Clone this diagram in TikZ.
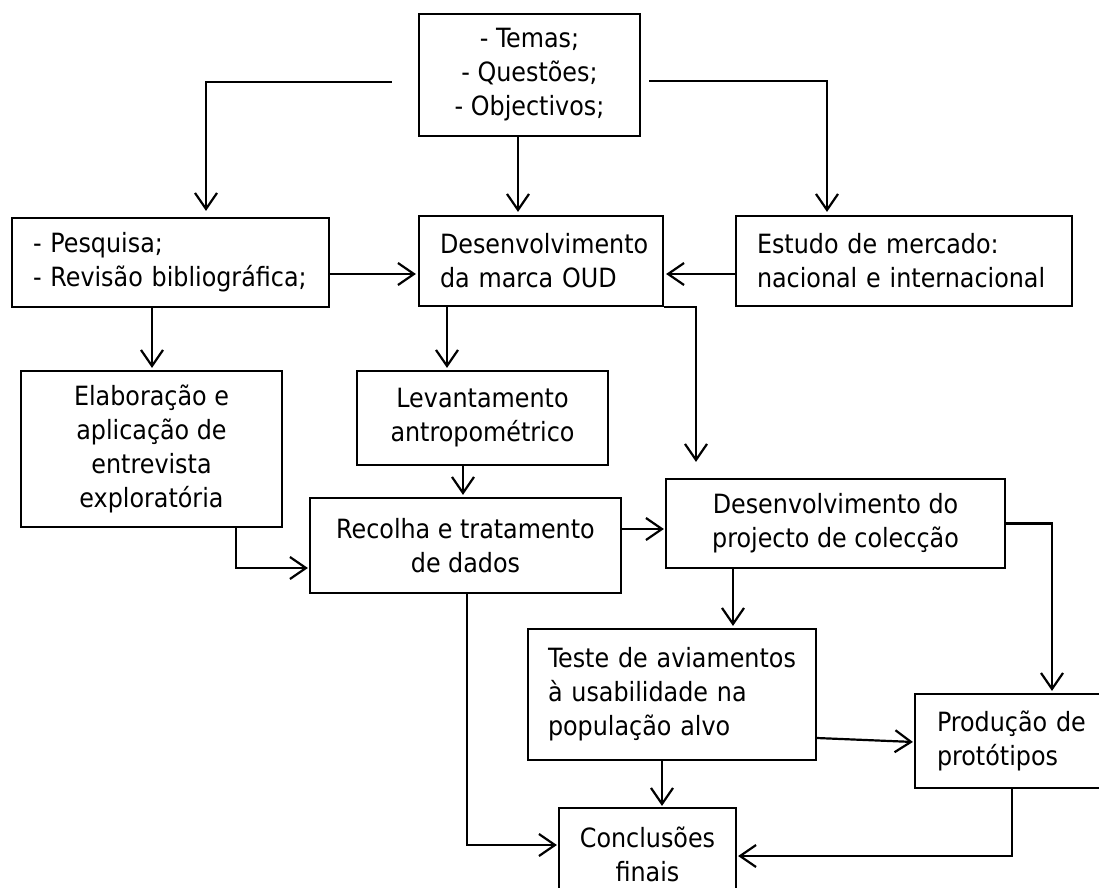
\documentclass[tikz,border=0pt]{standalone}
\usepackage{fontspec}
\setmainfont{DejaVu Sans Condensed}
\usetikzlibrary{arrows.meta,calc}
\begin{document}
\begin{tikzpicture}[x=1pt,y=-1pt,
  box/.style={draw, line width=2.2pt, inner sep=0pt, font=\fontsize{26.5}{34}\selectfont},
  arr/.style={draw, line width=2.2pt, -{Straight Barb[length=16pt,width=22pt,line width=2.2pt]}},
  lin/.style={draw, line width=2.2pt}]
\useasboundingbox (0,0) rectangle (1099,887);
% boxes
\node[box, minimum width=221pt, minimum height=122pt, align=center] (temas) at (529.5,75) {- Temas;\\- Questões;\\- Objectivos;};
\node[box, minimum width=317pt, minimum height=89pt, text width=275pt, align=left] (pesq) at (170.5,262.5) {- Pesquisa;\\- Revisão bibliográfica;};
\node[box, minimum width=244pt, minimum height=90pt, text width=202pt, align=left] (desenv) at (541,261) {Desenvolvimento\\da marca OUD};
\node[box, minimum width=336pt, minimum height=90pt, text width=294pt, align=left] (estudo) at (904,261) {Estudo de mercado:\\nacional e internacional};
\node[box, minimum width=261pt, minimum height=156pt, align=center] (elab) at (151.5,449) {Elaboração e\\aplicação de\\entrevista\\exploratória};
\node[box, minimum width=251pt, minimum height=94pt, align=center] (levant) at (482.5,418) {Levantamento\\antropométrico};
\node[box, minimum width=311pt, minimum height=95pt, align=center] (recolha) at (465.5,545.5) {Recolha e tratamento\\de dados};
\node[box, minimum width=339pt, minimum height=89pt, align=center] (proj) at (835.5,523.5) {Desenvolvimento do\\projecto de colecção};
\node[box, minimum width=288pt, minimum height=131pt, text width=248pt, align=left] (teste) at (672,694.5) {Teste de aviamentos\\à usabilidade na\\população alvo};
\node[box, minimum width=205pt, minimum height=94pt, text width=161pt, align=left] (prod) at (1017.5,741) {Produção de\\protótipos};
\node[box, minimum width=177pt, minimum height=92pt, align=center] (concl) at (647.5,854) {Conclusões\\finais};
% connectors
\draw[arr, shorten >=6pt] ([xshift=-26pt,yshift=-7pt]temas.west) -| ([xshift=35.5pt]pesq.north);
\draw[arr, shorten >=3pt] ([xshift=-11.5pt]temas.south) -- ([xshift=-11.5pt]temas.south |- desenv.north);
\draw[arr, shorten >=3pt] ([xshift=8pt,yshift=-6pt]temas.east) -| ([xshift=-77pt]estudo.north);
\draw[arr, shorten >=2pt] ([yshift=-11.5pt]pesq.east) -- ([yshift=-11.5pt]pesq.east -| desenv.west);
\draw[arr, shorten >=2pt] ([yshift=-13pt]estudo.west) -- ([yshift=-13pt]estudo.west -| desenv.east);
\draw[arr, shorten >=2pt] ([xshift=-18.5pt]pesq.south) -- ([xshift=-18.5pt]pesq.south |- elab.north);
\draw[arr, shorten >=2pt] ([xshift=-94pt]desenv.south) -- ([xshift=-94pt]desenv.south |- levant.north);
\draw[arr, shorten >=2pt] ([xshift=-19.5pt]levant.south) -- ([xshift=-19.5pt]levant.south |- recolha.north);
\draw[arr, shorten >=16pt] (desenv.south east) -| ([xshift=-139.5pt]proj.north);
\draw[arr, shorten >=1pt] ([xshift=84.5pt]elab.south) |- ([yshift=-22.5pt]recolha.west);
\draw[arr, shorten >=1pt] ([yshift=16.5pt]recolha.east) -- ([yshift=16.5pt]recolha.east -| proj.west);
\draw[arr, shorten >=2pt] (proj.east) -| ([xshift=34.5pt]prod.north);
\draw[arr, shorten >=2pt] ([xshift=-102.5pt]proj.south) -- ([xshift=-102.5pt]proj.south |- teste.north);
\draw[arr, shorten >=1pt] ([yshift=-43.5pt]teste.east) -- ([yshift=-1pt]prod.west);
\draw[arr, shorten >=1pt] ([xshift=-10pt]teste.south) -- ([xshift=-10pt]teste.south |- concl.north);
\draw[arr, shorten >=1pt] ([xshift=1.5pt]recolha.south) |- ([yshift=9pt]concl.west);
\draw[arr, shorten >=1pt] ([xshift=-5.5pt]prod.south) |- ([yshift=-2pt]concl.east);
\end{tikzpicture}
\end{document}
